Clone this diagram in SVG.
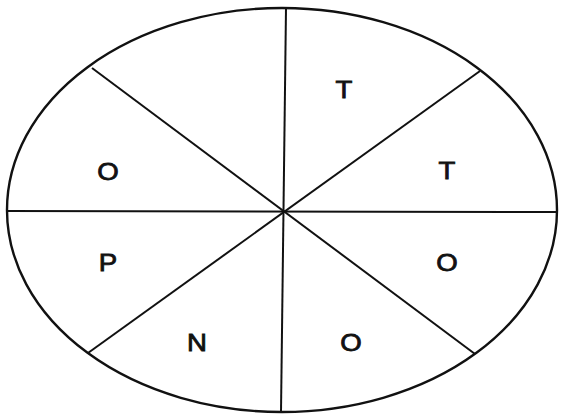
<svg xmlns="http://www.w3.org/2000/svg" width="562" height="415" viewBox="0 0 562 415">
<style>
.shape{fill:none;stroke:#111;stroke-width:2.4}
.ln{stroke:#111;stroke-width:2}
.lbl{font-family:"Liberation Sans",Arial,sans-serif;font-size:24px;fill:#111;text-anchor:middle;dominant-baseline:central;stroke:#111;stroke-width:0.8}
</style>
<rect width="562" height="415" fill="#fff"/>
<g id="ellipse"><ellipse class="shape" cx="282" cy="210" rx="275" ry="202"/></g>
<g id="connectors">
<line class="ln" x1="286" y1="8" x2="281" y2="412"/>
<line class="ln" x1="7" y1="211" x2="557" y2="212"/>
<line class="ln" x1="92" y1="68" x2="475" y2="354"/>
<line class="ln" x1="480" y1="71" x2="88" y2="353"/>
</g>
<g id="s1"><text class="lbl" transform="translate(344 90) scale(1.15 1)">T</text></g>
<g id="s2"><text class="lbl" transform="translate(447 171) scale(1.15 1)">T</text></g>
<g id="s3"><text class="lbl" transform="translate(447 263) scale(1.15 1)">O</text></g>
<g id="s4"><text class="lbl" transform="translate(351 343) scale(1.15 1)">O</text></g>
<g id="s5"><text class="lbl" transform="translate(197 343) scale(1.15 1)">N</text></g>
<g id="s6"><text class="lbl" transform="translate(108 263) scale(1.15 1)">P</text></g>
<g id="s7"><text class="lbl" transform="translate(108 172) scale(1.15 1)">O</text></g>
</svg>
